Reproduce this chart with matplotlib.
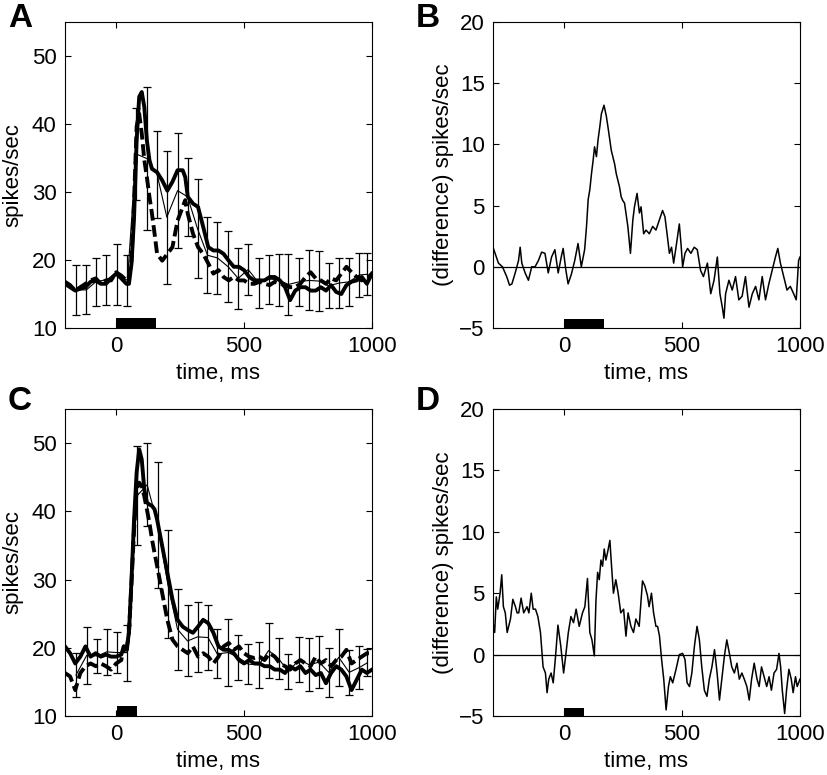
import matplotlib
matplotlib.use('Agg')
import matplotlib.pyplot as plt
from matplotlib.patches import Rectangle

plt.rcParams['font.family'] = ['Liberation Sans', 'DejaVu Sans']

# ---------- panel A ----------
a_t = [-200, -180, -160, -140, -120, -100, -80, -60, -40, -20, 0, 20, 40, 50, 60, 70, 80, 90, 100,
       110, 120, 130, 140, 160, 180, 200, 220, 240, 260, 270, 280, 300, 320, 340, 360, 380, 400,
       420, 440, 460, 480, 500, 520, 540, 560, 580, 600, 620, 640, 660, 680, 700, 720, 740, 760,
       780, 800, 820, 840, 860, 880, 900, 920, 940, 960, 980, 1000]
a_solid = [16.5, 16.0, 15.5, 15.8, 16.0, 16.8, 17.0, 16.5, 16.5, 17.3, 18.0, 17.3, 16.5, 16.5, 19.5,
           26.3, 37.6, 44.0, 44.7, 42.5, 37.6, 34.7, 33.4, 32.9, 31.7, 30.2, 31.5, 33.2, 33.2, 32.2,
           29.3, 28.3, 27.8, 24.9, 21.9, 21.4, 21.4, 20.9, 19.9, 19.0, 19.0, 18.5, 17.5, 17.0, 17.0,
           17.0, 17.5, 17.5, 17.0, 16.0, 14.1, 15.5, 16.0, 16.0, 15.5, 15.5, 16.0, 15.5, 16.3, 15.3,
           15.0, 16.3, 16.8, 17.0, 17.5, 16.5, 18.0]
a_t2 = [-200, -180, -160, -140, -120, -100, -80, -60, -40, -20, 0, 20, 40, 50, 60, 70, 80, 90, 100,
        110, 120, 130, 140, 150, 160, 180, 200, 220, 240, 260, 270, 280, 300, 320, 340, 360, 380,
        400, 420, 440, 460, 480, 500, 520, 540, 560, 580, 600, 620, 640, 660, 680, 700, 720, 740,
        760, 780, 800, 820, 840, 860, 880, 900, 920, 940, 960, 980, 1000]
a_dash = [16.8, 16.3, 15.5, 16.0, 16.5, 17.0, 17.3, 16.5, 17.0, 17.0, 18.2, 17.7, 17.0, 17.5, 20.0,
          28.8, 39.6, 41.5, 38.6, 34.7, 32.2, 29.3, 26.8, 23.9, 20.9, 19.9, 20.9, 21.9, 25.8, 27.8,
          28.8, 26.8, 23.9, 21.9, 20.9, 19.5, 18.0, 18.5, 17.5, 17.0, 17.5, 17.0, 17.0, 16.5, 16.5,
          16.8, 16.5, 16.3, 16.8, 16.5, 16.3, 16.0, 16.0, 16.5, 17.5, 18.2, 17.3, 17.0, 16.5, 17.3,
          17.0, 18.0, 19.0, 18.2, 17.5, 17.0, 17.3, 18.0]
a_err_t = [-156, -117, -79, -40, 2, 44, 78, 121, 160, 198, 240, 279, 318, 357, 396, 438, 477, 516,
           558, 596, 635, 673, 716, 754, 793, 831, 870, 911, 950, 982]
a_err_mean = [15.6, 15.6, 16.8, 17.1, 17.9, 17.0, 35.6, 34.9, 32.6, 26.3, 30.2, 29.3, 24.6, 20.7,
              20.3, 19.0, 17.3, 18.6, 16.6, 17.2, 17.1, 16.4, 16.8, 17.0, 16.9, 16.2, 16.6, 16.8,
              17.8, 17.9]
a_err_sd = [3.7, 3.6, 3.5, 3.7, 4.5, 3.7, 6.8, 10.5, 6.4, 9.8, 8.5, 5.7, 7.3, 5.6, 5.3, 5.2, 4.5,
            3.8, 3.7, 3.6, 3.8, 4.5, 3.5, 4.4, 4.4, 3.3, 3.7, 3.5, 3.2, 3.1]
a_stim = (0, 155)

# ---------- panel B ----------
b_t = [-300, -277, -260, -242, -230, -220, -206, -192, -185, -178, -164, -150, -136, -122, -108,
       -94, -80, -66, -52, -38, -24, -10, -3, 8, 18, 32, 46, 60, 74, 88, 96, 103, 110, 117, 124,
       130, 138, 145, 152, 159, 170, 180, 187, 201, 215, 222, 236, 243, 250, 257, 271, 282, 292,
       299, 310, 320, 327, 338, 348, 362, 376, 390, 404, 418, 428, 437, 447, 456, 465, 475, 489,
       496, 503, 513, 524, 538, 552, 565, 579, 591, 608, 622, 636, 650, 661, 671, 678, 685, 699,
       713, 727, 741, 755, 769, 784, 798, 812, 826, 840, 854, 868, 882, 896, 906, 917, 931, 945,
       959, 973, 984, 994, 1000]
b_diff = [1.6, 0.3, 0.0, -0.8, -1.5, -1.4, -0.5, 0.5, 1.6, 0.3, -0.5, -1.1, 0.0, 0.0, 0.5, 1.2,
          1.1, -0.5, 0.8, 1.4, -0.5, 0.9, 1.5, -0.2, -1.4, -0.6, 0.5, 1.9, 0.0, 1.4, 3.3, 5.5, 6.3,
          7.6, 8.7, 9.8, 9.0, 10.4, 11.4, 12.5, 13.2, 12.3, 11.4, 9.5, 8.4, 7.6, 6.5, 5.7, 5.4, 5.2,
          3.3, 1.1, 3.8, 4.9, 6.0, 4.4, 4.9, 2.7, 3.0, 2.7, 3.3, 3.0, 3.8, 4.6, 4.1, 2.7, 1.1, 1.6,
          0.3, 1.6, 3.5, 1.9, 0.0, 1.1, 1.5, 1.1, 1.6, 1.4, -0.3, -0.8, 0.3, -2.2, -1.1, 0.8, -2.2,
          -3.3, -4.2, -2.2, -1.1, -1.9, -0.8, -2.7, -2.4, -0.8, -3.3, -2.2, -1.6, -2.7, -0.8, -2.7,
          -1.4, -0.3, 0.8, 1.5, 0.3, -0.8, -1.9, -1.6, -2.2, -2.7, 0.5, 0.8]
b_stim = (0, 170)

# ---------- panel C ----------
c_t = [-200, -180, -160, -140, -120, -100, -80, -60, -40, -20, 0, 20, 30, 40, 50, 60, 70, 80, 90,
       100, 110, 120, 130, 140, 150, 160, 180, 200, 220, 240, 260, 280, 300, 320, 340, 360, 380,
       400, 420, 440, 460, 480, 500, 520, 540, 560, 580, 600, 620, 640, 660, 680, 700, 720, 740,
       760, 780, 800, 820, 840, 860, 880, 900, 920, 940, 960, 980, 1000]
c_solid = [20.2, 19.2, 17.7, 18.7, 20.2, 18.7, 19.2, 18.7, 19.0, 18.7, 18.7, 19.0, 20.2, 19.7,
           22.2, 30.0, 38.8, 45.7, 49.1, 47.6, 43.2, 41.3, 41.0, 40.8, 40.3, 38.8, 34.9, 31.0, 27.1,
           24.1, 23.1, 22.6, 22.2, 23.1, 24.1, 23.6, 22.2, 20.2, 19.7, 19.7, 19.2, 18.2, 17.7, 18.2,
           17.7, 17.7, 17.3, 17.3, 16.8, 16.8, 16.3, 17.3, 16.8, 17.3, 16.3, 16.8, 16.0, 16.3, 14.8,
           16.3, 17.3, 16.8, 15.8, 13.8, 15.3, 16.8, 16.3, 16.8]
c_dash = [16.3, 15.8, 13.8, 16.3, 17.3, 17.7, 17.3, 17.7, 17.3, 16.8, 17.7, 18.2, 20.2, 19.2, 22.2,
          29.5, 37.4, 43.2, 44.2, 43.7, 42.2, 40.3, 38.3, 35.9, 33.9, 32.0, 28.0, 24.1, 21.2, 20.2,
          19.7, 19.2, 20.2, 18.7, 19.2, 18.7, 17.7, 18.7, 20.2, 20.7, 19.7, 20.2, 19.2, 18.7, 18.5,
          18.7, 18.2, 19.2, 18.7, 17.7, 17.3, 16.8, 17.7, 18.2, 17.7, 17.3, 18.7, 17.7, 18.2, 17.3,
          18.2, 18.7, 19.7, 17.7, 18.2, 18.7, 19.2, 19.2]
c_err_t = [-157, -115, -73, -37, 4, 44, 82, 121, 163, 202, 240, 279, 318, 359, 395, 438, 477, 516,
           558, 596, 635, 673, 716, 754, 793, 831, 870, 911, 950, 982]
c_err_mean = [16.0, 18.9, 18.8, 19.4, 19.3, 19.3, 42.3, 43.9, 38.0, 29.3, 22.7, 21.0, 21.6, 21.5,
              19.1, 19.3, 18.6, 17.6, 17.5, 19.6, 18.4, 16.5, 18.3, 17.5, 17.9, 16.4, 18.6, 16.4,
              17.1, 17.8]
c_err_sd = [3.2, 4.2, 2.5, 3.4, 3.0, 4.1, 7.3, 6.1, 9.2, 7.9, 5.9, 5.2, 5.1, 4.7, 3.6, 4.9, 3.3,
            2.9, 3.4, 4.1, 3.0, 2.6, 3.3, 3.9, 3.8, 3.6, 4.2, 3.3, 3.2, 2.0]
c_stim = (3, 80)

# ---------- panel D ----------
d_t = [-300, -293, -286, -280, -270, -263, -256, -248, -240, -226, -216, -205, -198, -191, -181,
       -170, -156, -148, -138, -130, -120, -110, -99, -88, -78, -71, -64, -54, -45, -35, -25, -13,
       -1, 9, 19, 30, 41, 52, 65, 79, 89, 100, 110, 119, 129, 136, 143, 150, 157, 164, 171, 178,
       185, 195, 202, 210, 220, 230, 241, 253, 263, 272, 284, 295, 305, 319, 333, 343, 354, 361,
       371, 380, 390, 397, 405, 414, 423, 433, 443, 451, 461, 475, 489, 503, 513, 522, 532, 542,
       553, 564, 574, 584, 595, 606, 616, 627, 638, 649, 659, 669, 680, 690, 701, 711, 722, 733,
       743, 754, 764, 775, 785, 795, 806, 818, 827, 837, 848, 859, 869, 879, 890, 901, 911, 918,
       925, 935, 943, 953, 963, 971, 981, 988, 1000]
d_diff = [2.6, 1.8, 4.7, 3.7, 5.0, 6.5, 3.9, 3.4, 1.8, 2.9, 4.5, 3.9, 3.4, 3.4, 4.6, 3.4, 3.9, 3.4,
          5.0, 3.7, 3.7, 3.1, 1.8, -1.0, -1.5, -3.1, -2.0, -1.5, -2.3, -0.1, 2.4, 0.7, -1.5, 0.1,
          1.8, 3.1, 2.6, 3.7, 2.3, 3.4, 3.9, 6.2, 1.8, 1.2, -0.1, 4.4, 6.7, 6.1, 7.7, 7.2, 8.6, 7.7,
          8.3, 9.3, 7.2, 5.0, 6.1, 5.0, 3.4, 3.7, 1.5, 3.4, 2.3, 1.8, 2.9, 2.3, 6.0, 5.6, 4.8, 3.9,
          5.0, 3.4, 2.3, 2.3, 1.5, -0.4, -2.0, -4.5, -2.6, -1.8, -2.3, -1.2, 0.0, 0.1, -0.4, -2.3,
          -2.6, -1.5, 0.7, 2.3, 1.2, -1.0, -2.9, -3.4, -2.0, -1.0, 0.4, -1.5, -3.7, -2.0, -0.1, 1.2,
          0.1, -1.0, -1.5, -0.7, -2.0, -1.5, -2.0, -2.6, -3.7, -2.0, -0.7, -2.0, -2.6, -1.0, -1.8,
          -2.6, -1.8, -2.9, -1.5, -1.2, 0.1, -1.0, -2.9, -4.8, -2.9, -1.2, -2.0, -3.1, -1.8, -2.6,
          -2.0]
d_stim = (0, 85)

fig = plt.figure(figsize=(8.27, 7.75), dpi=100)

ax_pos = {
    'A': [65 / 827, 1 - 328 / 775, 307 / 827, 306 / 775],
    'B': [493 / 827, 1 - 328 / 775, 307 / 827, 306 / 775],
    'C': [65 / 827, 1 - 716 / 775, 307 / 827, 307 / 775],
    'D': [493 / 827, 1 - 716 / 775, 307 / 827, 307 / 775],
}


def style_axes(ax):
    ax.tick_params(direction='in', top=True, right=True, length=4, width=0.8,
                   labelsize=16, pad=6)
    for sp in ax.spines.values():
        sp.set_linewidth(0.8)
    ax.set_xticks([0, 500, 1000])
    ax.set_xlabel('time, ms', fontsize=16, labelpad=4)


def rate_panel(ax, t1, y1, t2, y2, et, em, es, stim):
    ax.errorbar(et, em, yerr=es, fmt='-', color='k', lw=0.8, elinewidth=0.9,
                capsize=3, capthick=0.9)
    ax.plot(t1, y1, color='k', lw=2.8)
    ax.plot(t2, y2, color='k', lw=2.8, ls=(0, (3, 1.2)))
    ax.add_patch(Rectangle((stim[0], 10), stim[1] - stim[0], 1.4, color='k', lw=0))
    ax.set_xlim(-200, 1000)
    ax.set_ylim(10, 55)
    ax.set_yticks([10, 20, 30, 40, 50])
    ax.set_ylabel('spikes/sec', fontsize=16, labelpad=6)
    style_axes(ax)


def diff_panel(ax, t, y, stim, bar_h):
    ax.axhline(0, color='k', lw=0.9)
    ax.plot(t, y, color='k', lw=1.1)
    ax.add_patch(Rectangle((stim[0], -5), stim[1] - stim[0], bar_h, color='k', lw=0))
    ax.set_xlim(-300, 1000)
    ax.set_ylim(-5, 20)
    ax.set_yticks([-5, 0, 5, 10, 15, 20])
    ax.set_ylabel('(difference) spikes/sec', fontsize=16, labelpad=4)
    style_axes(ax)


axA = fig.add_axes(ax_pos['A'])
rate_panel(axA, a_t, a_solid, a_t2, a_dash, a_err_t, a_err_mean, a_err_sd, a_stim)
axB = fig.add_axes(ax_pos['B'])
diff_panel(axB, b_t, b_diff, b_stim, 0.75)
axC = fig.add_axes(ax_pos['C'])
rate_panel(axC, c_t, c_solid, c_t, c_dash, c_err_t, c_err_mean, c_err_sd, c_stim)
axD = fig.add_axes(ax_pos['D'])
diff_panel(axD, d_t, d_diff, d_stim, 0.65)

# panel letters
for lab, (px, py) in {'A': (8, 3), 'B': (416, 3), 'C': (8, 386), 'D': (416, 386)}.items():
    fig.text(px / 827, 1 - py / 775, lab, fontsize=24, fontweight='bold', ha='left', va='top')

fig.savefig('out.png', dpi=100)
